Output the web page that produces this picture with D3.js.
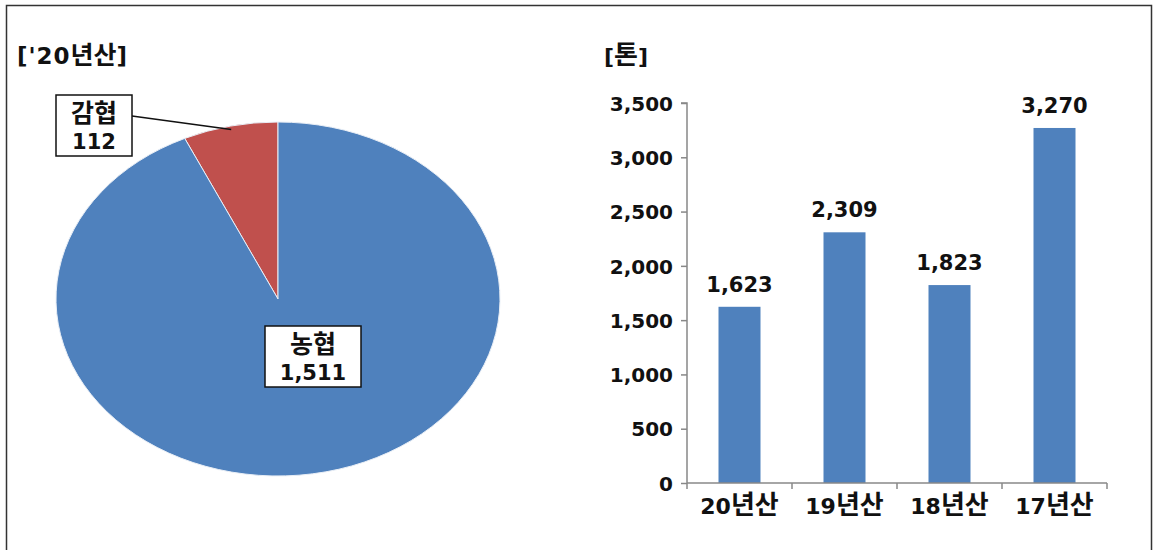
<!DOCTYPE html>
<html><head><meta charset="utf-8">
<script src="https://cdn.jsdelivr.net/npm/d3@7"></script>
<style>
body{margin:0;background:#fff;}
svg text{font-family:"DejaVu Sans","Noto Sans CJK KR",sans-serif;font-weight:bold;fill:#111;}
</style></head>
<body><svg id="c" width="1153" height="550"></svg>
<script>
// ---- data ----
const pieTitle = "['20년산]";
const pieCategories = ["감협", "농협"];
const pieValues = [112, 1511];
const pieColors = ["#C0504D", "#4F81BD"];

const barUnit = "[톤]";
const barCategories = ["20년산", "19년산", "18년산", "17년산"];
const barValues = [1623, 2309, 1823, 3270];
const yTicks = [0, 500, 1000, 1500, 2000, 2500, 3000, 3500];
const barColor = "#4F81BD";

const svg = d3.select("#c");
const fmt = d3.format(",");

// frame
svg.append("path").attr("d","M6.5,550 V5.5 H1151.5 V550").attr("fill","none").attr("stroke","#333").attr("stroke-width",1.5);

// helper: mixed text with Korean in larger size
function mixText(sel, str, size, krSize, ls){
  const parts = str.match(/[\uAC00-\uD7A3]+|[^\uAC00-\uD7A3]+/g);
  parts.forEach(p=>{
    const kr = /[\uAC00-\uD7A3]/.test(p);
    sel.append("tspan").text(p).attr("font-size", kr? krSize: size)
      .attr("letter-spacing", kr? 0 : (ls||0))
      .attr("font-family", kr? "'Noto Sans CJK KR'" : "'DejaVu Sans'");
  });
  return sel;
}

// ---- pie ----
mixText(svg.append("text").attr("x",17).attr("y",64), pieTitle, 23, 25, 1);

const cx=278, cy=299, rx=222, ry=177;
const total = d3.sum(pieValues);
const a0 = -2*Math.PI*pieValues[0]/total;
const pie = d3.pie().sort(null).startAngle(a0).endAngle(a0+2*Math.PI);
const arcs = pie(pieValues);
const arc = d3.arc().innerRadius(0).outerRadius(rx);
const pg = svg.append("g").attr("transform",`translate(${cx},${cy}) scale(1,${ry/rx})`);
pg.selectAll("path").data(arcs).join("path")
  .attr("d",arc).attr("fill",(d,i)=>pieColors[i])
  .attr("stroke","#e8eef6").attr("stroke-width",1).attr("vector-effect","non-scaling-stroke");

// labels
const labelBoxes = [
  {x:56,y:95,w:76,h:61},
  {x:265,y:326,w:96,h:61}
];
const mid = (arcs[0].startAngle+arcs[0].endAngle)/2;
const ex = cx + rx*Math.sin(mid)*0.98, ey = cy - ry*Math.cos(mid)*0.98;
svg.append("line").attr("x1",labelBoxes[0].x+labelBoxes[0].w).attr("y1",labelBoxes[0].y+21)
  .attr("x2",ex).attr("y2",ey).attr("stroke","#111").attr("stroke-width",1.5);

pieCategories.forEach((c,i)=>{
  const b = labelBoxes[i];
  svg.append("rect").attr("x",b.x).attr("y",b.y).attr("width",b.w).attr("height",b.h)
    .attr("fill","#fff").attr("stroke","#111").attr("stroke-width",1.5);
  svg.append("text").attr("x",b.x+b.w/2).attr("y",b.y+27).attr("text-anchor","middle")
    .attr("font-size",25).attr("font-family","'Noto Sans CJK KR'").text(c);
  svg.append("text").attr("x",b.x+b.w/2).attr("y",b.y+54).attr("text-anchor","middle")
    .attr("font-size",21).text(fmt(pieValues[i]));
});

// ---- bar chart ----
mixText(svg.append("text").attr("x",604).attr("y",64), barUnit, 22, 26, 0);

const x0=687, x1=1107, yb=483, yt=103;
const x = d3.scaleBand().domain(barCategories).range([x0,x1]).paddingInner(0.6).paddingOuter(0.3);
const y = d3.scaleLinear().domain([0,3500]).range([yb,yt]);

const ya = svg.append("g").attr("transform",`translate(${x0},0)`)
  .call(d3.axisLeft(y).tickValues(yTicks).tickFormat(fmt).tickSize(6).tickPadding(8));
ya.select(".domain").attr("stroke","#888").attr("stroke-width",1.5).attr("d",`M-6,${yt}H0V${yb}`);
ya.selectAll(".tick line").attr("stroke","#888").attr("stroke-width",1.5);
ya.selectAll(".tick text").attr("font-size",20).attr("font-family","'DejaVu Sans'").attr("fill","#111").attr("dy","0.36em");

svg.selectAll("rect.bar").data(barValues).join("rect").attr("class","bar")
  .attr("x",(d,i)=>x(barCategories[i])).attr("width",x.bandwidth())
  .attr("y",d=>y(d)).attr("height",d=>yb-y(d)).attr("fill",barColor);

svg.selectAll("text.val").data(barValues).join("text").attr("class","val")
  .attr("x",(d,i)=>x(barCategories[i])+x.bandwidth()/2).attr("y",d=>y(d)-15)
  .attr("text-anchor","middle").attr("font-size",21).text(d=>fmt(d));

// x axis
svg.append("line").attr("x1",x0).attr("x2",x1).attr("y1",yb).attr("y2",yb).attr("stroke","#888").attr("stroke-width",1.5);
d3.range(barCategories.length+1).forEach(i=>{
  const tx = x0 + i*(x1-x0)/barCategories.length;
  svg.append("line").attr("x1",tx).attr("x2",tx).attr("y1",yb).attr("y2",yb+6).attr("stroke","#888").attr("stroke-width",1.5);
});
barCategories.forEach(c=>{
  const t = svg.append("text").attr("x",x(c)+x.bandwidth()/2).attr("y",514).attr("text-anchor","middle");
  mixText(t, c, 22, 26, 0);
});
</script></body></html>
